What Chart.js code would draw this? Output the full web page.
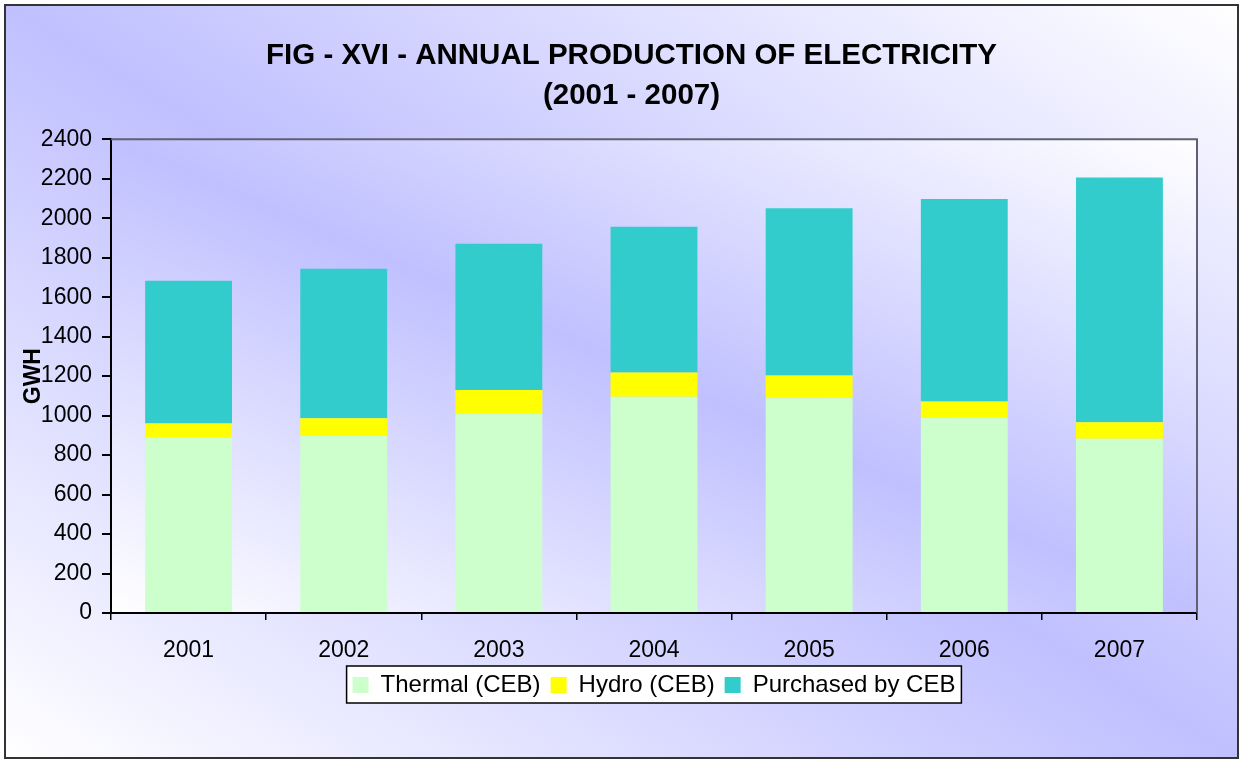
<!DOCTYPE html>
<html>
<head>
<meta charset="utf-8">
<script src="https://cdn.jsdelivr.net/npm/chart.js@4.4.0/dist/chart.umd.min.js"></script>
<style>
    html, body { margin: 0; padding: 0; background: #fff; }
    #wrap { position: relative; width: 1243px; height: 763px; }
</style>
</head>
<body>
<div id="wrap"><canvas id="chart"></canvas></div>
<script>
const years = ['2001', '2002', '2003', '2004', '2005', '2006', '2007'];
const thermal = [888, 898, 1008, 1096, 1088, 991, 883];
const hydro = [72, 88, 122, 122, 115, 80, 83];
const purchased = [723, 758, 741, 739, 847, 1026, 1240];
const titleLines = ['FIG - XVI - ANNUAL PRODUCTION OF ELECTRICITY', '(2001 - 2007)'];

const FONT = '"Liberation Sans", Arial, sans-serif';
const LAVENDER = '#c0c0ff';

// diagonal fill: white at bottom-left and top-right, lavender through the middle
function diagFill(ctx, x, y, w, h) {
    ctx.save();
    ctx.translate(x, y);
    ctx.scale(w, h);
    const g = ctx.createLinearGradient(0, 1, 1, 0);
    g.addColorStop(0, '#ffffff');
    g.addColorStop(0.5, LAVENDER);
    g.addColorStop(1, '#ffffff');
    ctx.fillStyle = g;
    ctx.fillRect(0, 0, 1, 1);
    ctx.restore();
}

function legendRect(chart) {
    const boxes = chart.legend.legendHitBoxes;
    if (!boxes || !boxes.length) return null;
    const l = Math.min(...boxes.map(b => b.left)) - 6;
    const r = Math.max(...boxes.map(b => b.left + b.width)) + 6;
    const t = boxes[0].top - 7;
    const b = boxes[0].top + boxes[0].height + 6;
    return { l, r, t, b };
}

const backdrop = {
    id: 'backdrop',
    beforeDraw(chart) {
        const ctx = chart.ctx;
        const a = chart.chartArea;
        diagFill(ctx, 5, 5, chart.width - 10, chart.height - 10);
        diagFill(ctx, a.left, a.top, a.right - a.left, a.bottom - a.top);
        const lr = legendRect(chart);
        if (lr) {
            ctx.save();
            ctx.fillStyle = '#ffffff';
            ctx.fillRect(lr.l, lr.t, lr.r - lr.l, lr.b - lr.t);
            ctx.restore();
        }
    },
    afterDraw(chart) {
        const ctx = chart.ctx;
        const a = chart.chartArea;
        ctx.save();
        // plot frame (top + right)
        ctx.strokeStyle = '#606070';
        ctx.lineWidth = 2;
        ctx.beginPath();
        ctx.moveTo(a.left, a.top);
        ctx.lineTo(a.right, a.top);
        ctx.lineTo(a.right, a.bottom);
        ctx.stroke();
        // outer border
        ctx.strokeStyle = '#333333';
        ctx.strokeRect(5, 5, chart.width - 10, chart.height - 10);
        // legend frame
        const lr = legendRect(chart);
        if (lr) {
            ctx.strokeStyle = '#000000';
            ctx.lineWidth = 1.5;
            ctx.strokeRect(lr.l, lr.t, lr.r - lr.l, lr.b - lr.t);
        }
        ctx.restore();
    }
};

new Chart(document.getElementById('chart'), {
    type: 'bar',
    data: {
        labels: years,
        datasets: [
            { label: 'Thermal (CEB)', data: thermal, backgroundColor: '#ccffcc', borderWidth: 0 },
            { label: 'Hydro (CEB)', data: hydro, backgroundColor: '#ffff00', borderWidth: 0 },
            { label: 'Purchased by CEB', data: purchased, backgroundColor: '#33cccc', borderWidth: 0 }
        ]
    },
    options: {
        responsive: true,
        maintainAspectRatio: false,
        animation: false,
        layout: { padding: { left: 20, right: 0, top: 0, bottom: 56 } },
        datasets: { bar: { barPercentage: 0.56, categoryPercentage: 1.0 } },
        plugins: {
            title: {
                display: true,
                text: titleLines,
                color: '#000',
                font: { family: FONT, size: 29.5, weight: 'bold', lineHeight: 1.36 },
                padding: { top: 36, bottom: 23 }
            },
            legend: {
                position: 'bottom',
                fullSize: false,
                labels: {
                    color: '#000',
                    font: { family: FONT, size: 24 },
                    boxWidth: 16,
                    boxHeight: 16,
                    padding: 10
                }
            },
            tooltip: { enabled: false }
        },
        scales: {
            x: {
                stacked: true,
                grid: { drawOnChartArea: false, color: '#000', tickLength: 7, lineWidth: 1.5, offset: true },
                border: { color: '#000', width: 2 },
                ticks: { color: '#000', font: { family: FONT, size: 23 }, padding: 17, maxRotation: 0 },
                afterFit(scale) { scale.height = 50; }
            },
            y: {
                stacked: true,
                min: 0,
                max: 2400,
                grid: { drawOnChartArea: false, color: '#000', tickLength: 9, lineWidth: 2 },
                border: { color: '#000', width: 2 },
                ticks: {
                    stepSize: 200,
                    color: '#000',
                    font: { family: FONT, size: 23 },
                    padding: 10,
                    callback: v => String(v)
                },
                title: {
                    display: true,
                    text: 'GWH',
                    color: '#000',
                    font: { family: FONT, size: 23, weight: 'bold' },
                    padding: 0
                },
                afterFit(scale) { scale.width = 91; }
            },
            // empty right-hand spacer so the plot ends where the original does
            spacer: {
                type: 'linear',
                position: 'right',
                min: 0,
                max: 1,
                grid: { display: false },
                border: { display: false },
                ticks: { display: false },
                afterFit(scale) { scale.width = 46; }
            }
        }
    },
    plugins: [backdrop]
});
</script>
</body>
</html>
